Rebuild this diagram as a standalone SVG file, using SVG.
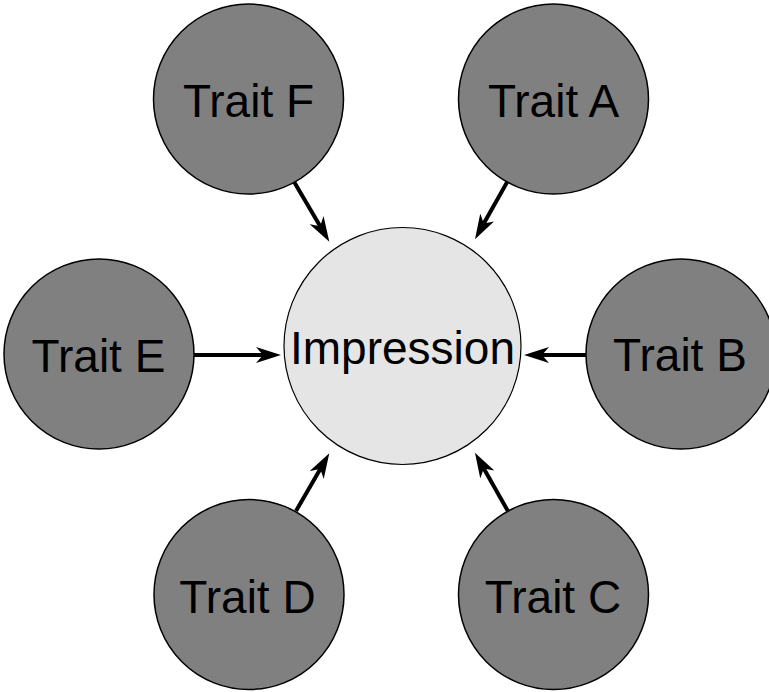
<svg xmlns="http://www.w3.org/2000/svg" width="769" height="692" viewBox="0 0 769 692">
  <style>
    .trait circle { fill: #808080; stroke: #000; stroke-width: 1.5; }
    .center circle { fill: #e5e5e5; stroke: #000; stroke-width: 1.2; }
    text { font-family: "Liberation Sans", Arial, sans-serif; font-size: 46px; fill: #000; text-anchor: middle; }
    .edge { stroke: #000; stroke-width: 4; fill: none; marker-end: url(#arrow); }
  </style>
  <defs>
    <marker id="arrow" viewBox="0 -8 25 16" markerWidth="25" markerHeight="16" refX="7" refY="0" orient="auto" markerUnits="userSpaceOnUse">
      <path d="M25,0 L0,-8 L7,0 L0,8 Z" fill="#000"/>
    </marker>
  </defs>
  <rect width="769" height="692" fill="#fff"/>

  <g id="connectors">
    <line class="edge" x1="293" y1="180" x2="320.2" y2="226.2"/>
    <line class="edge" x1="507.3" y1="181.7" x2="483.8" y2="223.6"/>
    <line class="edge" x1="194" y1="355" x2="263" y2="355"/>
    <line class="edge" x1="586" y1="355" x2="542" y2="355"/>
    <line class="edge" x1="296" y1="511" x2="320.3" y2="468.9"/>
    <line class="edge" x1="507.7" y1="510.7" x2="483.8" y2="468.4"/>
  </g>

  <g id="impression" class="center">
    <circle cx="402.5" cy="346" r="118.5"/>
    <text x="402.5" y="364" font-size="45">Impression</text>
  </g>
  <g id="traitA" class="trait">
    <circle cx="553.5" cy="99" r="95"/>
    <text x="553.5" y="116.7">Trait A</text>
  </g>
  <g id="traitF" class="trait">
    <circle cx="248.5" cy="99" r="95"/>
    <text x="248.5" y="116.7">Trait F</text>
  </g>
  <g id="traitE" class="trait">
    <circle cx="99" cy="354" r="95"/>
    <text x="98.5" y="371.7">Trait E</text>
  </g>
  <g id="traitB" class="trait">
    <circle cx="681" cy="354" r="95"/>
    <text x="680" y="370.7">Trait B</text>
  </g>
  <g id="traitD" class="trait">
    <circle cx="249" cy="594.5" r="95"/>
    <text x="247.5" y="613.3">Trait D</text>
  </g>
  <g id="traitC" class="trait">
    <circle cx="553.5" cy="594.5" r="95"/>
    <text x="553" y="613.3">Trait C</text>
  </g>
</svg>
